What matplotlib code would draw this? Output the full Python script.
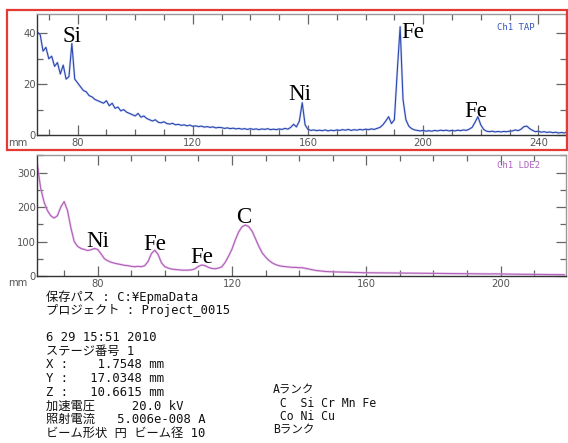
import numpy as np
import matplotlib
matplotlib.use("Agg")
import matplotlib.pyplot as plt
from matplotlib.patches import Rectangle
from matplotlib.ticker import MultipleLocator

# ---------------- data ----------------
tap_start = 66
tap_y = [40.5, 39.5, 33, 34.5, 30, 31, 27, 28.5, 24, 27.5,
         22, 23, 36, 22, 20.5, 19, 17.5, 17, 15.5, 15,
         14, 13.5, 13, 12.5, 13.5, 11.5, 12.5, 10.5, 11, 9.5,
         10, 9, 8.5, 8, 7.5, 8.5, 7, 7.5, 6.5, 6,
         5.5, 6, 5, 4.8, 5.2, 4.5, 4.3, 4.6, 4, 4.2,
         3.8, 4, 3.6, 3.9, 3.4, 3.6, 3.3, 3.5, 3.1, 3.3,
         3, 3.2, 2.8, 3, 2.9, 2.6, 2.8, 2.5, 2.7, 2.4,
         2.6, 2.3, 2.5, 2.2, 2.5, 2.2, 2.4, 2.1, 2.4, 2.2,
         2.5, 2.1, 2.3, 2.1, 2.4, 2.2, 2.6, 2.3, 3, 4.2,
         3.2, 5.5, 12.7, 4, 2.2, 1.8, 2, 1.7, 1.9, 1.7,
         2, 1.6, 1.9, 1.7, 2, 1.8, 2.1, 1.9, 2.2, 1.8,
         2.1, 1.9, 2.2, 2, 2.3, 2.1, 2.4, 2.2, 2.6, 3,
         4, 5.5, 7.2, 4.5, 6, 25, 42.6, 14, 6, 3.5,
         2.5, 2, 1.8, 1.6, 1.8, 1.5, 1.7, 1.5, 1.8, 1.6,
         1.9, 1.7, 1.9, 1.6, 1.8, 1.6, 1.9, 1.7, 2, 1.8,
         2.3, 3, 5, 7.2, 4, 2.2, 1.5, 1.3, 1.5, 1.2,
         1.4, 1.2, 1.4, 1.3, 1.5, 1.6, 2, 1.7, 2.3, 3.3,
         3.5, 2.5, 1.8, 1.3, 1.5, 1.1, 1.3, 1.0, 1.2, 0.9,
         1.1, 0.8, 1.0, 0.8, 1.2]

lde_start = 62
lde_y = [323, 255, 215, 190, 175, 168, 175, 200, 216, 190,
         140, 100, 86, 80, 77, 74, 76, 80, 77, 64,
         50, 44, 40, 37, 35, 33, 31, 30, 28, 27,
         28, 27, 30, 42, 65, 75, 62, 38, 27, 23,
         20, 19, 18, 17, 17, 17, 18, 21, 28, 32,
         30, 25, 22, 21, 23, 27, 40, 58, 78, 105,
         128, 143, 148, 143, 130, 108, 86, 67, 55, 45,
         38, 33, 30, 28, 27, 26, 25, 25, 24, 24,
         22, 20, 18, 16, 15, 14, 13, 12.5, 12, 11.8,
         11.5, 11.2, 11, 10.7, 10.4, 10.1, 9.9, 9.6, 9.5, 9.3,
         9.2, 9.0, 8.9, 8.9, 8.7, 8.6, 8.5, 8.3, 8.2, 8.1,
         8.0, 7.9, 7.8, 7.7, 7.6, 7.5, 7.4, 7.3, 7.2, 7.1,
         7.0, 6.9, 6.8, 6.8, 6.7, 6.6, 6.5, 6.4, 6.3, 6.2,
         6.0, 5.9, 5.8, 5.8, 5.8, 6.0, 6.2, 6.0, 5.7, 5.5,
         5.4, 5.3, 5.2, 5.1, 5.0, 4.9, 4.9, 4.8, 4.7, 4.6,
         4.5, 4.4, 4.3, 4.2, 4.1, 4.0, 3.9, 3.8]

top_labels = ["Si", "Ni", "Fe", "Fe"]
top_label_x = [74.7, 153.0, 192.3, 214.2]
top_label_y = [36.6, 13.8, 38.0, 7.2]

bot_labels = ["Ni", "Fe", "Fe", "C"]
bot_label_x = [76.5, 93.6, 107.5, 121.1]
bot_label_y = [85, 75.6, 37, 155]

info_left = ["保存パス : C:¥EpmaData",
             "プロジェクト : Project_0015",
             "",
             "6 29 15:51 2010",
             "ステージ番号 1",
             "X :    1.7548 mm",
             "Y :   17.0348 mm",
             "Z :   10.6615 mm",
             "加速電圧     20.0 kV",
             "照射電流   5.006e-008 A",
             "ビーム形状 円 ビーム径 10"]
info_right = ["Aランク", " C  Si Cr Mn Fe", " Co Ni Cu", "Bランク"]

# ---------------- figure ----------------
W, H = 568, 443
fig = plt.figure(figsize=(W / 100, H / 100), dpi=100)
fig.patch.set_facecolor("white")

def fx(x):
    return x / W

def fy(y):
    return 1 - y / H

tick_col = "#555555"
mono = ["DejaVu Sans Mono", "Noto Sans CJK JP"]


def style_axes(ax, xmaj, xmin, ymaj, ymin):
    ax.xaxis.set_major_locator(MultipleLocator(xmaj))
    ax.xaxis.set_minor_locator(MultipleLocator(xmin))
    ax.yaxis.set_major_locator(MultipleLocator(ymaj))
    ax.yaxis.set_minor_locator(MultipleLocator(ymin))
    ax.tick_params(which="both", direction="in", top=True, right=True,
                   colors="#666666", labelcolor=tick_col, width=0.9)
    ax.tick_params(which="major", length=7, pad=2.5, labelsize=7.2)
    ax.tick_params(which="minor", length=4)
    ax.tick_params(axis="y", which="major", pad=1)
    ax.spines["left"].set_color("#333333")
    ax.spines["bottom"].set_color("#333333")
    ax.spines["top"].set_color("#999999")
    ax.spines["right"].set_color("#999999")
    for s in ax.spines.values():
        s.set_linewidth(1.0)


label_font = dict(family=["Liberation Serif", "DejaVu Serif"], fontsize=16.5,
                  color="black", ha="left", va="baseline")

# top panel
ax1 = fig.add_axes([fx(37.3), fy(135), fx(566 - 37.3), (135 - 14.3) / H])
x_tap = tap_start + np.arange(len(tap_y))
ax1.plot(x_tap, tap_y, color="#9fb0e6", lw=1.7, alpha=0.45, solid_joinstyle="round")
ax1.plot(x_tap, tap_y, color="#2a46b0", lw=0.8, solid_joinstyle="round")
ax1.set_xlim(66, 249.6)
ax1.set_ylim(0, 47.5)
style_axes(ax1, 40, 10, 20, 10)
for t, x, y in zip(top_labels, top_label_x, top_label_y):
    ax1.text(x, y, t, **label_font)
ax1.text(0.94, 0.93, "Ch1 TAP", transform=ax1.transAxes, ha="right", va="top",
         family="DejaVu Sans Mono", fontsize=6.5, color="#3552c0")

# bottom panel
ax2 = fig.add_axes([fx(37.3), fy(276), fx(566 - 37.3), (276 - 155) / H])
x_lde = lde_start + np.arange(len(lde_y))
ax2.plot(x_lde, lde_y, color="#e0b0e4", lw=1.7, alpha=0.6, solid_joinstyle="round")
ax2.plot(x_lde, lde_y, color="#b060b8", lw=0.8, solid_joinstyle="round")
ax2.set_xlim(62, 219.5)
ax2.set_ylim(0, 351)
style_axes(ax2, 40, 10, 100, 50)
for t, x, y in zip(bot_labels, bot_label_x, bot_label_y):
    ax2.text(x, y, t, **label_font)
ax2.text(0.95, 0.95, "Ch1 LDE2", transform=ax2.transAxes, ha="right", va="top",
         family="DejaVu Sans Mono", fontsize=6.5, color="#b060c0")

# "mm" labels
fig.text(fx(8), fy(143), "mm", fontsize=7.2, color=tick_col, va="center", ha="left")
fig.text(fx(8), fy(283), "mm", fontsize=7.2, color=tick_col, va="center", ha="left")

# red frame around top panel
fig.patches.append(Rectangle((fx(7.3), fy(150)), fx(567.3 - 7.3), (150 - 10) / H,
                             transform=fig.transFigure, fill=False,
                             edgecolor="#e53935", lw=1.6))

# info text
y0 = 297
for i, line in enumerate(info_left):
    if line:
        fig.text(fx(46.5), fy(y0 + i * 13.6), line, family=mono, fontsize=8.8,
                 color="#111111", ha="left", va="center")
for i, line in enumerate(info_right):
    fig.text(fx(273), fy(390 + i * 13.3), line, family=mono, fontsize=8.3,
             color="#111111", ha="left", va="center")

fig.savefig("out.png", dpi=100, facecolor="white")
